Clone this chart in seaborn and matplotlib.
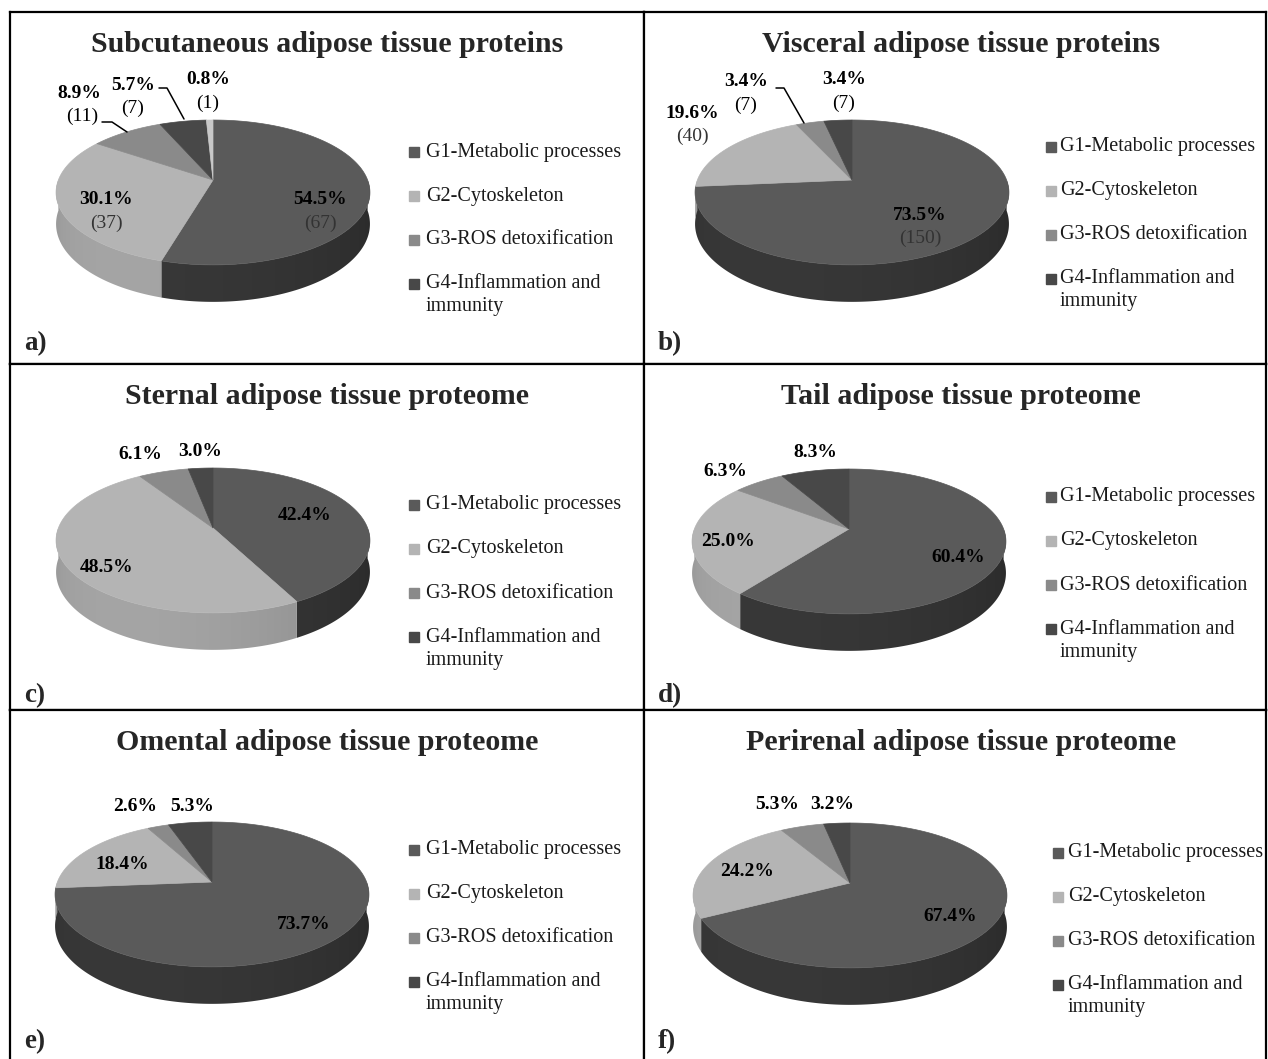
"""3D-style pie panels: protein groups across six adipose tissue depots."""
import matplotlib

matplotlib.use("Agg")
import matplotlib.pyplot as plt
import numpy as np
import seaborn as sns
from matplotlib.patches import Polygon, Rectangle

GROUPS = ["G1-Metabolic processes", "G2-Cytoskeleton", "G3-ROS detoxification", "G4-Inflammation and\nimmunity"]
TITLES = [
    "Subcutaneous adipose tissue proteins", "Visceral adipose tissue proteins",
    "Sternal adipose tissue proteome", "Tail adipose tissue proteome",
    "Omental adipose tissue proteome", "Perirenal adipose tissue proteome",
]
TAGS = ["a)", "b)", "c)", "d)", "e)", "f)"]

# slice order: G1, G2, G3, G4 (+ one unlabelled sliver in panel a)
subcutaneous_pct = [54.5, 30.1, 8.9, 5.7, 0.8]
subcutaneous_n = [67, 37, 11, 7, 1]
visceral_pct = [73.5, 19.6, 3.4, 3.4]
visceral_n = [150, 40, 7, 7]
sternal_pct = [42.4, 48.5, 6.1, 3.0]
tail_pct = [60.4, 25.0, 6.3, 8.3]
omental_pct = [73.7, 18.4, 2.6, 5.3]
perirenal_pct = [67.4, 24.2, 5.3, 3.2]

TOP_COLORS = ["#5a5a5a", "#b4b4b4", "#8a8a8a", "#484848", "#c8c8c8"]
SIDE_COLORS = ["#303030", "#8e8e8e", "#6a6a6a", "#2a2a2a", "#9a9a9a"]

W, H = 1268, 1059
COLS = [10, 644, 1266]
ROWS = [12, 364, 710, 1064]

# pie geometry in pixels (simple perspective)
A, B, K, D = 154.6, 70.3, 0.172, 30.6

# layout (panel-local pixels): pie centre, label anchors, legend anchor
LAYOUT = [
    dict(center=(203, 168), pct_xy=[(310, 188), (96, 188), (69, 81), (123, 73), (198, 68)],
         leaders=[[(92, 110), (102, 110), (117, 120)], [(149, 76), (157, 76), (174, 107)]],
         legend=(404, 416, 140)),
    dict(center=(208, 168), pct_xy=[(276, 203), (48, 101), (102, 70), (200, 68)],
         leaders=[[(132, 76), (140, 76), (160, 111)]],
         legend=(407, 416, 135)),
    dict(center=(203, 164), pct_xy=[(295, 152), (97, 203), (130, 91), (190, 88)],
         leaders=[], legend=(404, 416, 141)),
    dict(center=(205, 165), pct_xy=[(314, 194), (84, 178), (81, 108), (171, 89)],
         leaders=[], legend=(407, 416, 133)),
    dict(center=(202, 172), pct_xy=[(294, 215), (112, 155), (125, 97), (182, 97)],
         leaders=[], legend=(404, 416, 140)),
    dict(center=(206, 173), pct_xy=[(306, 207), (103, 162), (133, 95), (188, 95)],
         leaders=[], legend=(414, 424, 143)),
]


def project(theta, cx, cy, drop=0.0):
    u, v = np.cos(theta), np.sin(theta)
    s = 1.0 / (1.0 + K * v)
    return cx + A * u * s, cy - B * v * s + drop * s


def side_gradient(hex_color, cx, ncols=400):
    xs = np.linspace(cx - 1.03 * A, cx + 1.03 * A, ncols)
    theta = -np.arccos(np.clip((xs - cx) / A, -1, 1))
    g = 1 + 0.16 * np.cos(theta - np.radians(-125))
    rgb = np.array(matplotlib.colors.to_rgb(hex_color))
    img = np.clip(rgb[None, :] * g[:, None], 0, 1)
    return img[None, :, :], (xs[0], xs[-1])


def draw_pie(ax, values, cx, cy):
    frac = np.asarray(values, float) / np.sum(values)
    edges = 90 - 360 * np.concatenate([[0], np.cumsum(frac)])
    for i in range(len(values)):
        # side wall: only the front half (-180..0 deg) is visible
        lo, hi = max(edges[i + 1], -180), min(edges[i], 0)
        if hi > lo:
            ts = np.radians(np.linspace(hi, lo, 200))
            xt, yt = project(ts, cx, cy)
            xb, yb = project(ts[::-1], cx, cy, D)
            poly = Polygon(np.c_[np.r_[xt, xb], np.r_[yt, yb]], closed=True, fc="none", ec="none")
            ax.add_patch(poly)
            img, (xa, xz) = side_gradient(SIDE_COLORS[i], cx)
            im = ax.imshow(img, extent=(xa, xz, cy + B * 1.4 + D * 1.3, cy - 10), aspect="auto",
                           interpolation="bilinear", zorder=2)
            im.set_clip_path(poly)
    for i in range(len(values)):
        n = max(3, int(abs(edges[i] - edges[i + 1]) * 2))
        ts = np.radians(np.linspace(edges[i], edges[i + 1], n))
        xs, ys = project(ts, cx, cy)
        ax.fill(np.r_[cx, xs], np.r_[cy, ys], color=TOP_COLORS[i], lw=0.5, ec=TOP_COLORS[i], zorder=3)


sns.set_theme(style="white")
plt.rcParams["font.family"] = ["Liberation Serif", "DejaVu Serif"]

fig = plt.figure(figsize=(W / 100, H / 100), dpi=100, facecolor="white")

panels = [
    (subcutaneous_pct, subcutaneous_n), (visceral_pct, visceral_n),
    (sternal_pct, None), (tail_pct, None),
    (omental_pct, None), (perirenal_pct, None),
]

for k, (pct, counts) in enumerate(panels):
    r, c = divmod(k, 2)
    x0, x1 = COLS[c], COLS[c + 1]
    y0, y1 = ROWS[r], ROWS[r + 1]
    pw, ph = x1 - x0, y1 - y0
    ax = fig.add_axes([x0 / W, 1 - y1 / H, pw / W, ph / H])
    lay = LAYOUT[k]
    cx, cy = lay["center"]
    draw_pie(ax, pct, cx, cy)
    ax.set_xlim(0, pw)
    ax.set_ylim(ph, 0)
    ax.set_xticks([])
    ax.set_yticks([])
    for sp in ax.spines.values():
        sp.set_visible(True)
        sp.set_color("black")
        sp.set_linewidth(1.6)

    ax.text(317, 33, TITLES[k], ha="center", va="center", fontsize=21.5, fontweight="bold")
    ax.text(14, 332, TAGS[k], ha="left", va="center", fontsize=19.5, fontweight="bold")

    for j, p in enumerate(pct):
        tx, ty = lay["pct_xy"][j]
        ax.text(tx, ty, f"{p:.1f}%", ha="center", va="center", fontsize=14, fontweight="bold",
                color="black", zorder=5)
        if counts is not None:
            inside = j < 2
            ax.text(tx + (3 if (k == 0 and j == 2) else 0), ty + 23, f"({counts[j]})", ha="center", va="center",
                    fontsize=14, color="#333333" if inside else "black", zorder=5)
    for pts in lay["leaders"]:
        xs, ys = zip(*pts)
        ax.plot(xs, ys, color="black", lw=1.1, zorder=4)

    mx, tx, ly = lay["legend"]
    for i, name in enumerate(GROUPS):
        yy = ly + 44 * i
        ax.add_patch(Rectangle((mx - 5, yy - 5), 10, 10, color=TOP_COLORS[i], zorder=4))
        for li, line in enumerate(name.split("\n")):
            ax.text(tx, yy + 23 * li, line, ha="left", va="center", fontsize=14.5, color="#1a1a1a")

fig.savefig("out.png", dpi=100, facecolor="white")
